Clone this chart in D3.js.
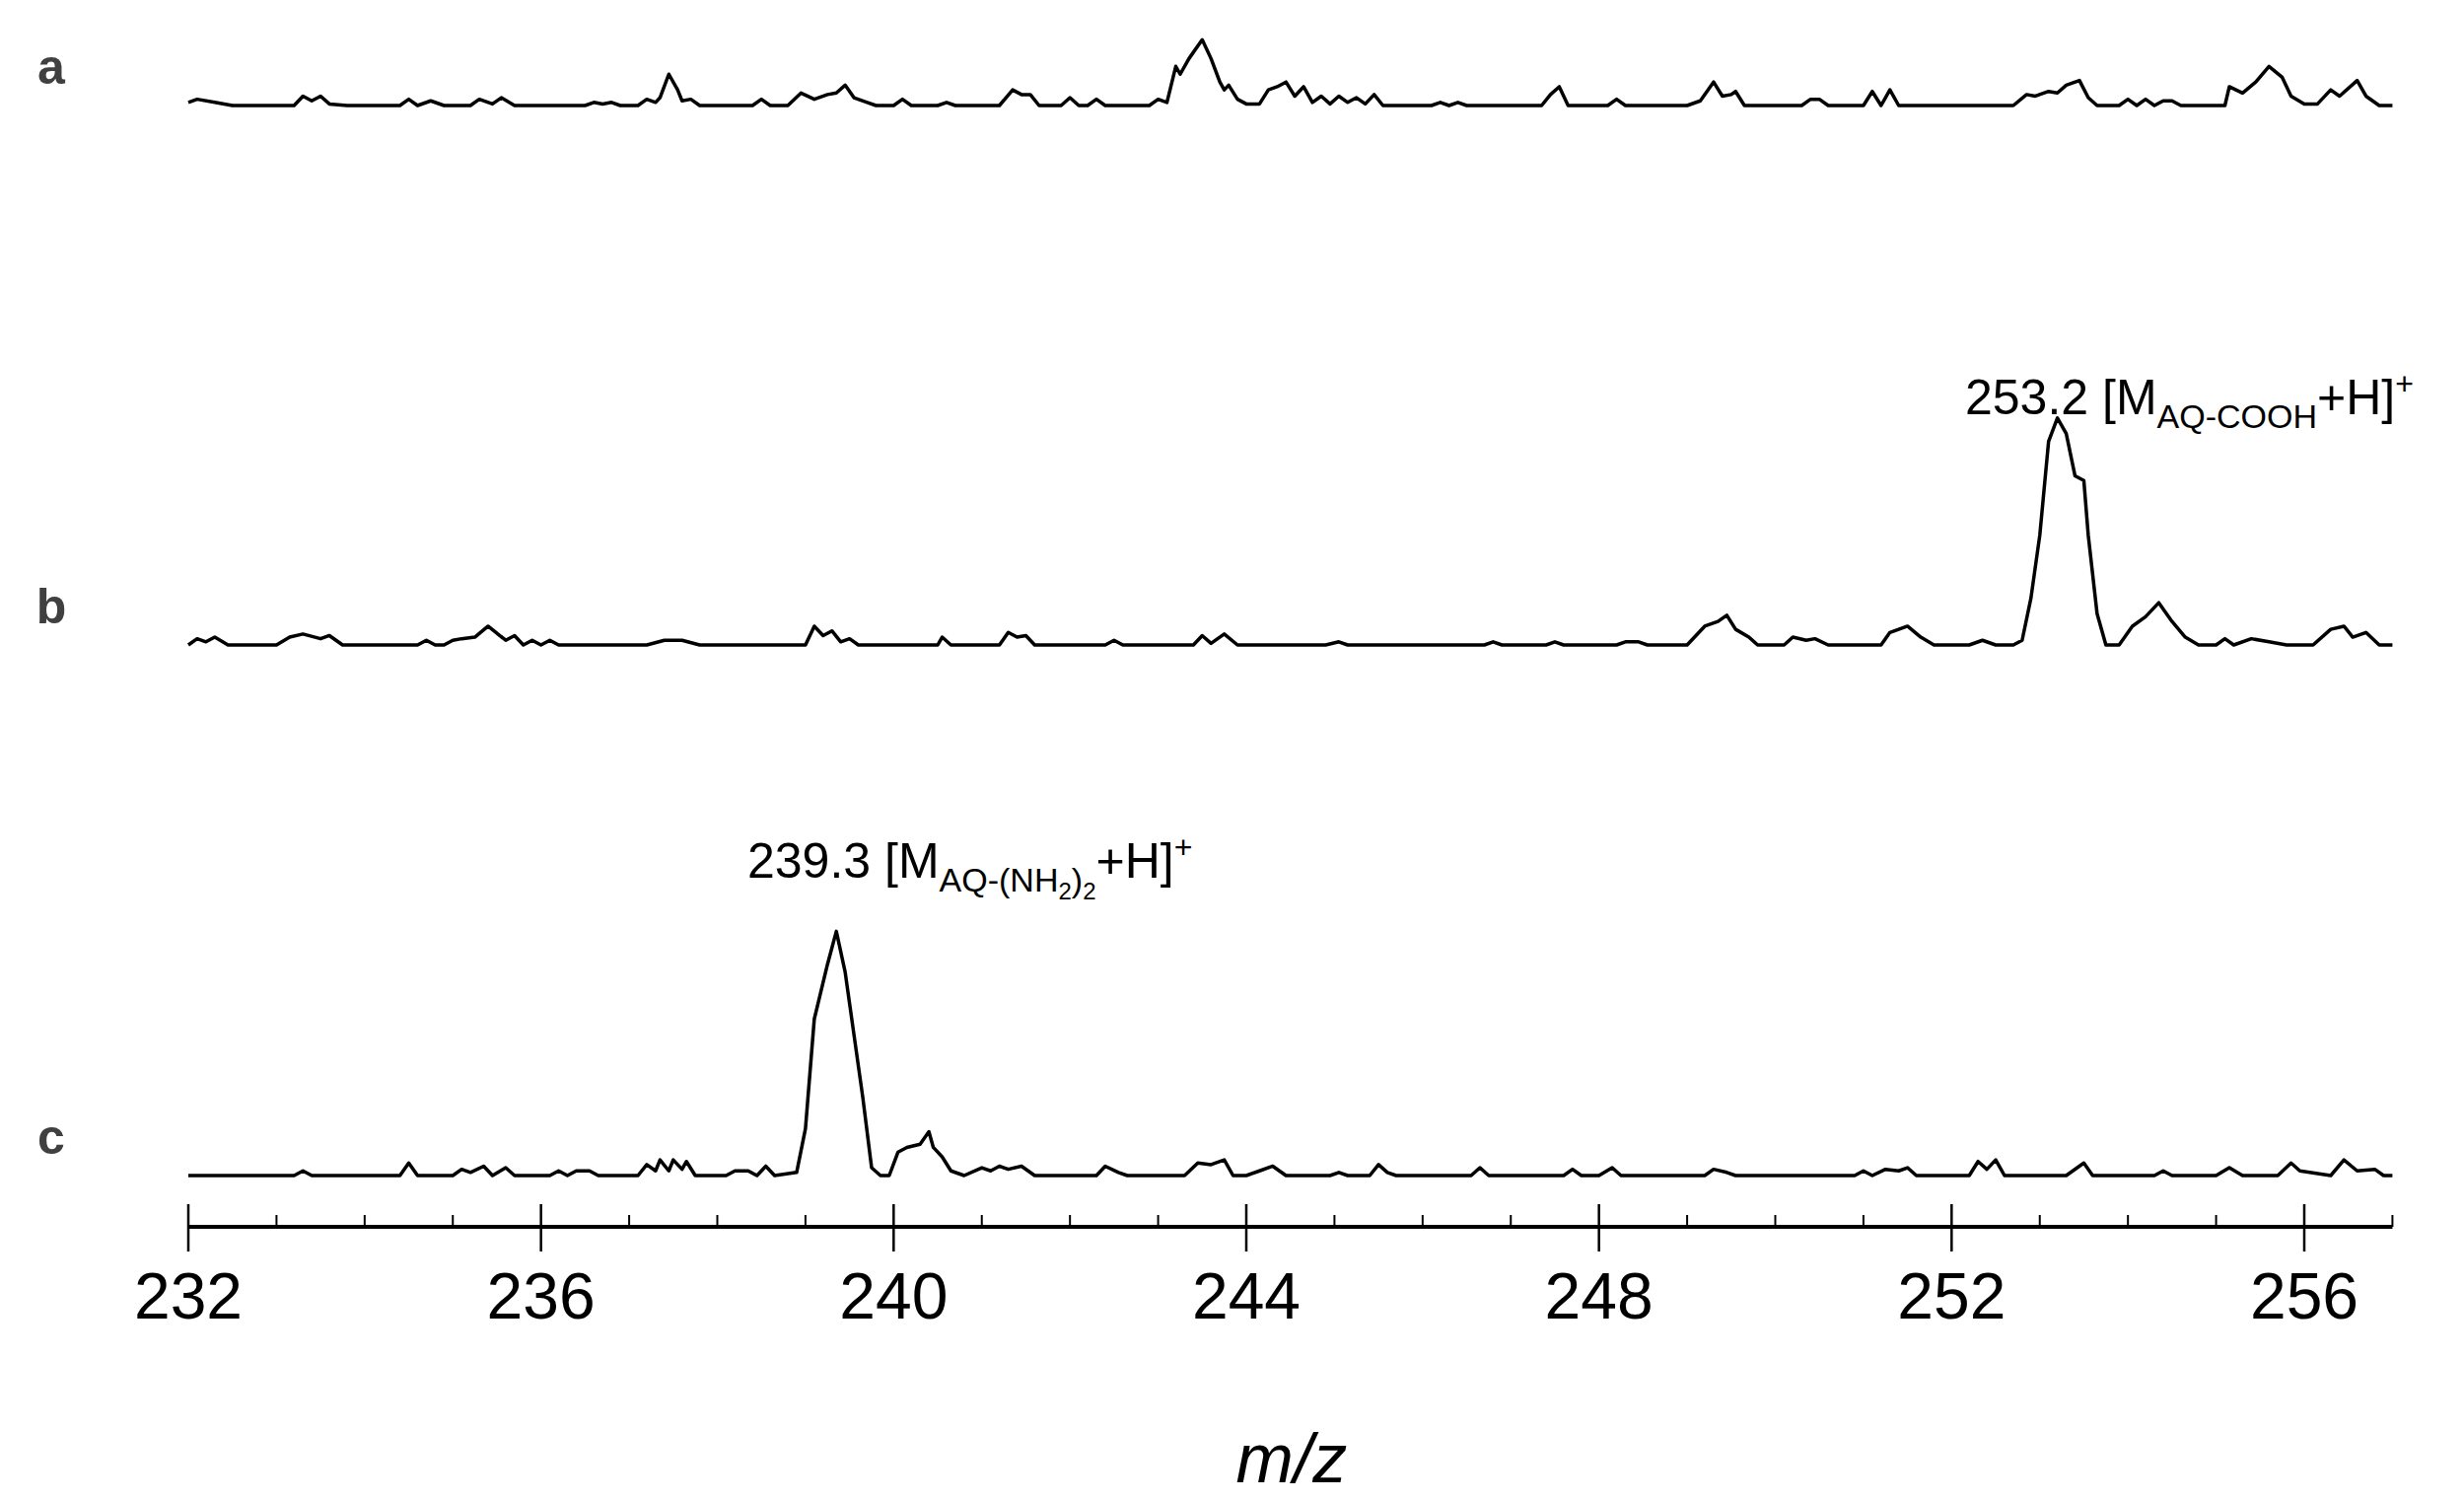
<!DOCTYPE html>
<html lang="en">
<head>
<meta charset="utf-8">
<script src="https://cdn.jsdelivr.net/npm/d3@7"></script>
<style>
  body { margin: 0; background: #fff; }
  text { font-family: Arial, "Liberation Sans", sans-serif; }
</style>
</head>
<body>
<script>
var w = 2499, h = 1522;

// [m/z, intensity]
var traceA = [[232.0,2],[232.1,4],[232.3,2],[232.5,0],[233.2,0],[233.3,6],[233.4,3],[233.5,6],[233.6,1],[233.8,0],[234.4,0],[234.5,4],[234.6,0],[234.75,3],[234.9,0],[235.2,0],[235.3,4],[235.45,1],[235.55,5],[235.7,0],[236.5,0],[236.6,2],[236.7,1],[236.8,2],[236.9,0],[237.1,0],[237.2,4],[237.3,2],[237.35,5],[237.45,20],[237.55,10],[237.6,3],[237.7,4],[237.8,0],[238.4,0],[238.5,4],[238.6,0],[238.8,0],[238.95,8],[239.1,4],[239.25,7],[239.35,8],[239.45,13],[239.55,5],[239.7,2],[239.8,0],[240.0,0],[240.1,4],[240.2,0],[240.5,0],[240.6,2],[240.7,0],[241.2,0],[241.35,10],[241.45,7],[241.55,7],[241.65,0],[241.9,0],[242.0,5],[242.1,0],[242.2,0],[242.3,4],[242.4,0],[242.9,0],[243.0,4],[243.1,2],[243.2,25],[243.25,20],[243.35,30],[243.5,42],[243.6,30],[243.7,15],[243.75,10],[243.8,13],[243.9,4],[244.0,1],[244.15,1],[244.25,10],[244.35,12],[244.45,15],[244.55,6],[244.65,12],[244.75,2],[244.85,6],[244.95,1],[245.05,6],[245.15,2],[245.25,5],[245.35,1],[245.45,7],[245.55,0],[246.1,0],[246.2,2],[246.3,0],[246.4,2],[246.5,0],[247.35,0],[247.45,7],[247.55,12],[247.65,0],[248.1,0],[248.2,4],[248.3,0],[249.0,0],[249.15,3],[249.3,15],[249.4,6],[249.5,7],[249.55,9],[249.65,0],[250.3,0],[250.4,4],[250.5,4],[250.6,0],[251.0,0],[251.1,9],[251.2,0],[251.3,10],[251.4,0],[252.7,0],[252.85,7],[252.95,6],[253.1,9],[253.2,8],[253.3,13],[253.45,16],[253.55,5],[253.65,0],[253.9,0],[254.0,4],[254.1,0],[254.2,4],[254.3,0],[254.4,3],[254.5,3],[254.6,0],[255.1,0],[255.15,12],[255.3,8],[255.45,15],[255.6,25],[255.75,18],[255.85,6],[256.0,1],[256.15,1],[256.3,10],[256.4,6],[256.6,16],[256.7,6],[256.85,0],[257.0,0]];

var traceB = [[232.0,0],[232.1,4],[232.2,2],[232.3,5],[232.45,0],[233.0,0],[233.15,5],[233.3,7],[233.5,4],[233.6,6],[233.75,0],[234.6,0],[234.7,3],[234.8,0],[234.9,0],[235.0,3],[235.1,4],[235.25,5],[235.4,12],[235.6,3],[235.7,6],[235.8,0],[235.9,3],[236.0,0],[236.1,3],[236.2,0],[237.2,0],[237.4,3],[237.6,3],[237.8,0],[239.0,0],[239.1,12],[239.2,6],[239.3,9],[239.4,2],[239.5,4],[239.6,0],[240.5,0],[240.55,5],[240.65,0],[241.2,0],[241.3,8],[241.4,5],[241.5,6],[241.6,0],[242.4,0],[242.5,3],[242.6,0],[243.4,0],[243.5,6],[243.6,1],[243.75,7],[243.9,0],[244.9,0],[245.05,2],[245.15,0],[246.7,0],[246.8,2],[246.9,0],[247.4,0],[247.5,2],[247.6,0],[248.2,0],[248.3,2],[248.45,2],[248.55,0],[249.0,0],[249.2,12],[249.35,15],[249.45,19],[249.55,10],[249.7,5],[249.8,0],[250.1,0],[250.2,5],[250.35,3],[250.45,4],[250.6,0],[251.2,0],[251.3,8],[251.4,10],[251.5,12],[251.65,5],[251.8,0],[252.2,0],[252.35,3],[252.5,0],[252.7,0],[252.8,3],[252.9,30],[253.0,70],[253.1,130],[253.2,145],[253.3,135],[253.4,108],[253.5,105],[253.55,70],[253.65,20],[253.75,0],[253.9,0],[254.05,12],[254.2,18],[254.35,27],[254.5,15],[254.65,5],[254.8,0],[255.0,0],[255.1,4],[255.2,0],[255.4,4],[255.6,2],[255.8,0],[256.1,0],[256.3,10],[256.45,12],[256.55,5],[256.7,8],[256.85,0],[257.0,0]];

var traceC = [[232.0,0],[233.2,0],[233.3,3],[233.4,0],[234.4,0],[234.5,8],[234.6,0],[235.0,0],[235.1,4],[235.2,2],[235.35,6],[235.45,0],[235.6,5],[235.7,0],[236.1,0],[236.2,3],[236.3,0],[236.4,3],[236.55,3],[236.65,0],[237.1,0],[237.2,7],[237.3,3],[237.35,10],[237.45,3],[237.5,10],[237.6,4],[237.65,9],[237.75,0],[238.1,0],[238.2,3],[238.35,3],[238.45,0],[238.55,6],[238.65,0],[238.9,2],[239.0,30],[239.1,100],[239.25,135],[239.35,156],[239.45,130],[239.55,90],[239.65,50],[239.75,5],[239.85,0],[239.95,0],[240.05,15],[240.15,18],[240.3,20],[240.4,28],[240.45,18],[240.55,12],[240.65,3],[240.8,0],[241.0,5],[241.1,3],[241.2,6],[241.3,4],[241.45,6],[241.6,0],[242.3,0],[242.4,6],[242.55,2],[242.65,0],[243.3,0],[243.45,8],[243.6,7],[243.75,10],[243.85,0],[244.0,0],[244.15,3],[244.3,6],[244.45,0],[244.95,0],[245.05,2],[245.15,0],[245.4,0],[245.5,7],[245.6,2],[245.7,0],[246.55,0],[246.65,5],[246.75,0],[247.6,0],[247.7,4],[247.8,0],[248.0,0],[248.15,5],[248.25,0],[249.2,0],[249.3,4],[249.45,2],[249.55,0],[250.9,0],[251.0,3],[251.1,0],[251.25,4],[251.4,3],[251.5,5],[251.6,0],[252.2,0],[252.3,9],[252.4,4],[252.5,10],[252.6,0],[253.3,0],[253.5,8],[253.6,0],[254.3,0],[254.4,3],[254.5,0],[255.0,0],[255.15,5],[255.3,0],[255.7,0],[255.85,8],[255.95,3],[256.3,0],[256.45,10],[256.6,3],[256.8,4],[256.9,0],[257.0,0]];

var traces = [traceA, traceB, traceC];
var traceNames = ["a", "b", "c"];
var baselines = [107, 654, 1192];
var majorTicks = [232, 236, 240, 244, 248, 252, 256];
var minorTicks = d3.range(233, 258, 1).filter(function(d) { return (d - 232) % 4 !== 0; });

var xScale = d3.scaleLinear().domain([232, 256]).range([191, 2337]);
var yScale = d3.scaleLinear().domain([0, 160]).range([0, 254]);

var svg = d3.select("body").append("svg")
    .attr("width", w).attr("height", h);

//traces
traces.forEach(function(tr, i) {
    var line = d3.line()
        .x(function(d) { return xScale(d[0]); })
        .y(function(d) { return baselines[i] - yScale(d[1]); });
    svg.append("path")
        .datum(tr)
        .attr("d", line)
        .attr("fill", "none")
        .attr("stroke", "#000")
        .attr("stroke-width", 3.5)
        .attr("stroke-linejoin", "round");
    svg.append("text")
        .attr("x", 52).attr("y", baselines[i] - 22)
        .attr("text-anchor", "middle")
        .attr("font-size", 50).attr("font-weight", "bold")
        .attr("fill", "#404040")
        .text(traceNames[i]);
});

//axis
var axisY = 1244;
svg.append("line")
    .attr("x1", xScale(232)).attr("x2", xScale(257))
    .attr("y1", axisY).attr("y2", axisY)
    .attr("stroke", "#000").attr("stroke-width", 4);
svg.selectAll(".major").data(majorTicks).enter().append("line")
    .attr("x1", function(d) { return xScale(d); })
    .attr("x2", function(d) { return xScale(d); })
    .attr("y1", axisY - 23).attr("y2", axisY + 25)
    .attr("stroke", "#000").attr("stroke-width", 2.5);
svg.selectAll(".minor").data(minorTicks).enter().append("line")
    .attr("x1", function(d) { return xScale(d); })
    .attr("x2", function(d) { return xScale(d); })
    .attr("y1", axisY - 12).attr("y2", axisY)
    .attr("stroke", "#000").attr("stroke-width", 2);
svg.selectAll(".tlabel").data(majorTicks).enter().append("text")
    .attr("x", function(d) { return xScale(d); })
    .attr("y", 1337)
    .attr("text-anchor", "middle")
    .attr("font-size", 66)
    .text(function(d) { return d; });

svg.append("text")
    .attr("x", 1310).attr("y", 1503)
    .attr("text-anchor", "middle")
    .attr("font-size", 70).attr("font-style", "italic")
    .text("m/z");

//annotations
function annot(x, y, num, parts) {
    var t = svg.append("text").attr("x", x).attr("y", y).attr("font-size", 50);
    t.append("tspan").text(num + " [M");
    var level = 0;
    parts.forEach(function(p) {
        var target = p.sub ? 2 : 1;
        var dy = (target === 2 ? 22 : 14) - (level === 2 ? 22 : level === 1 ? 14 : 0);
        t.append("tspan").attr("font-size", p.sub ? 24 : 34).attr("dy", dy).text(p.t);
        level = target;
    });
    t.append("tspan").attr("font-size", 50)
        .attr("dy", -(level === 2 ? 22 : 14)).text("+H]");
    t.append("tspan").attr("dy", -20).attr("font-size", 32).text("+");
}
annot(1993, 420, "253.2", [{t: "AQ-COOH"}]);
annot(758, 890, "239.3", [{t: "AQ-(NH"}, {t: "2", sub: true}, {t: ")"}, {t: "2", sub: true}]);
</script>
</body>
</html>
